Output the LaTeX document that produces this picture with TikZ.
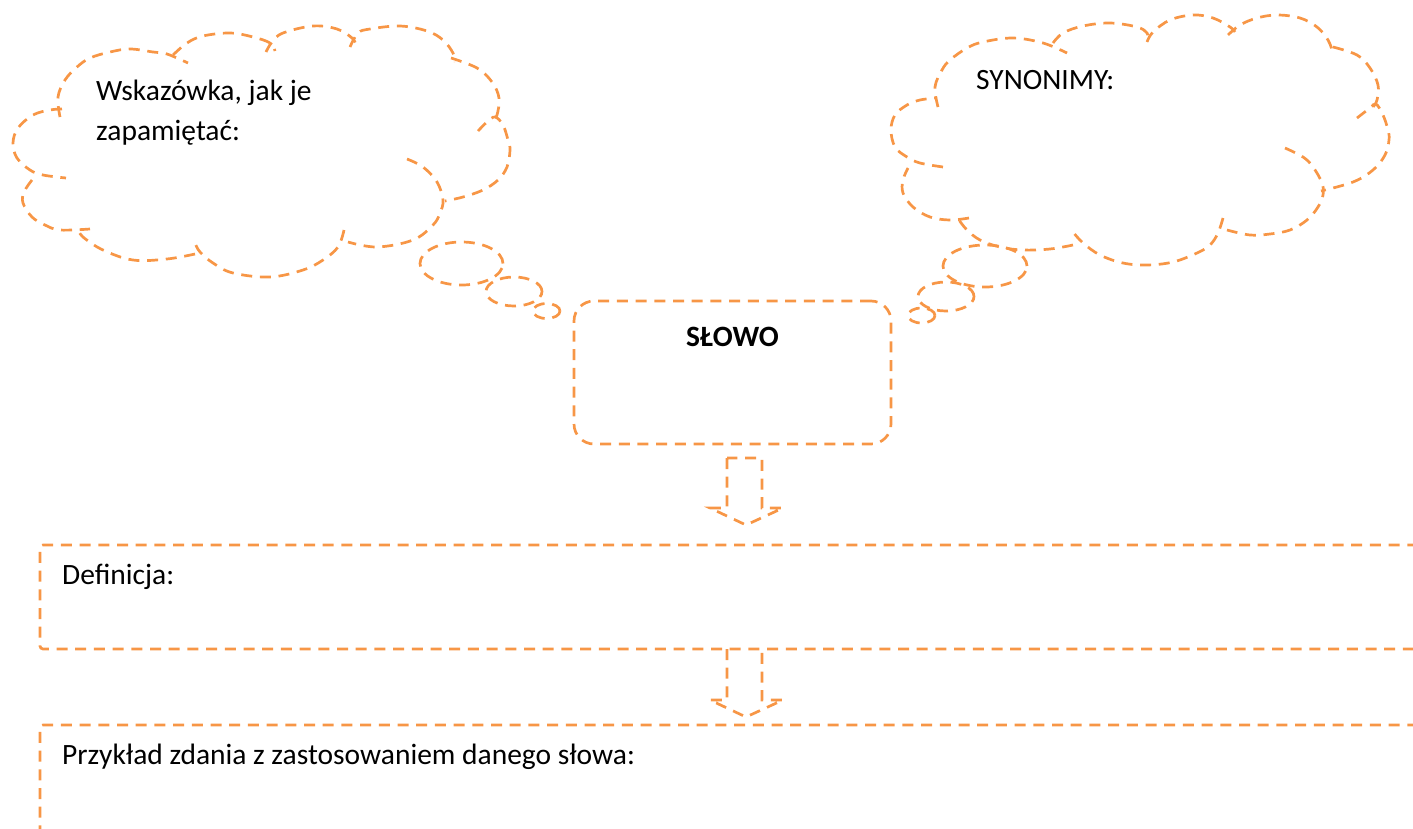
\documentclass[tikz,border=0pt]{standalone}
\usepackage{fontspec}
\setmainfont{Carlito}
\usetikzlibrary{shapes.geometric}
\definecolor{accentorange}{HTML}{F79646}
\begin{document}
\begin{tikzpicture}[x=1pt,y=-1pt,
  dashline/.style={draw=accentorange, line width=2.7pt, dash pattern=on 11pt off 7.7pt},
  bubble/.style={dashline, ellipse, inner sep=0pt},
  lbl/.style={font=\fontsize{29.5}{40}\selectfont, anchor=base west, inner sep=0pt},
]
\useasboundingbox (0,0) rectangle (1413,828);
\clip (0,0) rectangle (1413,828);

% ---------- left cloud ----------
\draw[dashline] plot[smooth, tension=0.6] coordinates {(62,109) (50,110) (33,115) (18,128) (13,143) (17,158) (30,170) (43,175) (66,178)};
\draw[dashline] plot[smooth, tension=0.6] coordinates {(60,117) (58,97) (65,80) (77,67) (90,58) (110,52) (130,49) (153,52) (167,54) (188,63)};
\draw[dashline] plot[smooth, tension=0.6] coordinates {(173,55) (187,43) (203,36) (230,33) (253,37) (270,43) (275,51)};
\draw[dashline] plot[smooth, tension=0.6] coordinates {(266,52) (272,42) (283,33) (313,26) (337,29) (352,38) (356,45)};
\draw[dashline] plot[smooth, tension=0.6] coordinates {(350,47) (358,33) (370,29) (400,26) (427,31) (443,40) (453,53) (455,62)};
\draw[dashline] plot[smooth, tension=0.6] coordinates {(451,58) (477,68) (492,82) (499,98) (497,115) (493,119)};
\draw[dashline] plot[smooth, tension=0.6] coordinates {(478,131) (487,122) (495,117) (503,125) (508,140) (510,150) (507,167) (498,180) (483,190) (463,197) (445,201)};
\draw[dashline] plot[smooth, tension=0.6] coordinates {(407,159) (423,167) (437,182) (443,200) (440,213) (433,225) (413,240) (377,247) (348,242)};
\draw[dashline] plot[smooth, tension=0.6] coordinates {(344,230) (338,247) (323,260) (303,270) (270,277) (233,273) (213,263) (200,252) (195,243)};
\draw[dashline] plot[smooth, tension=0.6] coordinates {(195,254) (167,259) (133,260) (103,250) (83,237) (78,229)};
\draw[dashline] plot[smooth, tension=0.6] coordinates {(32,180) (24,192) (23,203) (32,217) (45,225) (60,230) (90,229)};

\node[bubble, minimum width=83pt, minimum height=43pt] (lb1) at (461.5,263.5) {};
\node[bubble, minimum width=56pt, minimum height=29pt] (lb2) at (514,291.5) {};
\node[bubble, minimum width=27pt, minimum height=15pt] (lb3) at (546.5,311) {};

\node[lbl] (hint1) at (96,100) {Wskazówka, jak je};
\node[lbl] (hint2) at (96,140) {zapamiętać:};

% ---------- right cloud ----------
\draw[dashline] plot[smooth, tension=0.6] coordinates {(943,167) (920,163) (907,157) (895,147) (891,130) (895,115) (907,105) (920,100) (936,98)};
\draw[dashline] plot[smooth, tension=0.6] coordinates {(938,107) (935,87) (942,70) (950,60) (967,48) (983,42) (1013,38) (1043,43) (1067,53)};
\draw[dashline] plot[smooth, tension=0.6] coordinates {(1053,43) (1063,33) (1083,26) (1110,23) (1137,27) (1147,33) (1148,40)};
\draw[dashline] plot[smooth, tension=0.6] coordinates {(1147,42) (1153,32) (1170,20) (1193,15) (1213,18) (1230,27) (1235,32)};
\draw[dashline] plot[smooth, tension=0.6] coordinates {(1228,35) (1240,25) (1257,18) (1277,15) (1300,18) (1317,27) (1328,40) (1333,53)};
\draw[dashline] plot[smooth, tension=0.6] coordinates {(1333,47) (1357,55) (1370,68) (1378,85) (1377,100) (1373,107)};
\draw[dashline] plot[smooth, tension=0.6] coordinates {(1357,118) (1370,108) (1376,104) (1383,115) (1388,130) (1389,140) (1385,155) (1373,170) (1353,182) (1321,191)};
\draw[dashline] plot[smooth, tension=0.6] coordinates {(1285,148) (1303,157) (1313,167) (1322,183) (1323,195) (1318,207) (1307,220) (1290,230) (1270,234) (1250,235) (1227,230)};
\draw[dashline] plot[smooth, tension=0.6] coordinates {(1223,218) (1218,233) (1210,245) (1197,253) (1173,262) (1147,265) (1123,263) (1100,255) (1083,243) (1073,232)};
\draw[dashline] plot[smooth, tension=0.6] coordinates {(1073,245) (1050,249) (1023,250) (1000,247) (980,240) (967,230) (959,220)};
\draw[dashline] plot[smooth, tension=0.6] coordinates {(969,218) (950,220) (930,217) (913,207) (903,193) (903,180) (908,168)};

\node[bubble, minimum width=84pt, minimum height=42pt] (rb1) at (985,266) {};
\node[bubble, minimum width=56pt, minimum height=29pt] (rb2) at (946,296.5) {};
\node[bubble, minimum width=27pt, minimum height=15pt] (rb3) at (921.5,315.5) {};

\node[lbl] (syn) at (976,89) {SYNONIMY:};

% ---------- central box ----------
\node[dashline, rounded corners=20pt, minimum width=317pt, minimum height=143pt, inner sep=0pt] (slowo) at (732.5,372.5) {};
\node[lbl, anchor=base, font=\fontsize{29.5}{40}\selectfont\bfseries] (slowotxt) at (732.5,346) {SŁOWO};

% ---------- arrows ----------
\draw[dashline] (727,458) -- (727,508) -- (710,508) -- (746,525) -- (783,508) -- (762,508) -- (762,458) -- cycle;

\node[dashline, rounded corners=3pt, minimum width=1400pt, minimum height=104pt, inner sep=0pt] (defbox) at (740,597) {};
\node[lbl] (deftxt) at (62,584) {Definicja:};

\draw[dashline] (727,649) -- (727,700) -- (710,700) -- (746,717) -- (783,700) -- (762,700) -- (762,649);

\node[dashline, rounded corners=3pt, minimum width=1400pt, minimum height=175pt, inner sep=0pt] (exbox) at (740,812.5) {};
\node[lbl] (extxt) at (62,764) {Przykład zdania z zastosowaniem danego słowa:};
\end{tikzpicture}
\end{document}
